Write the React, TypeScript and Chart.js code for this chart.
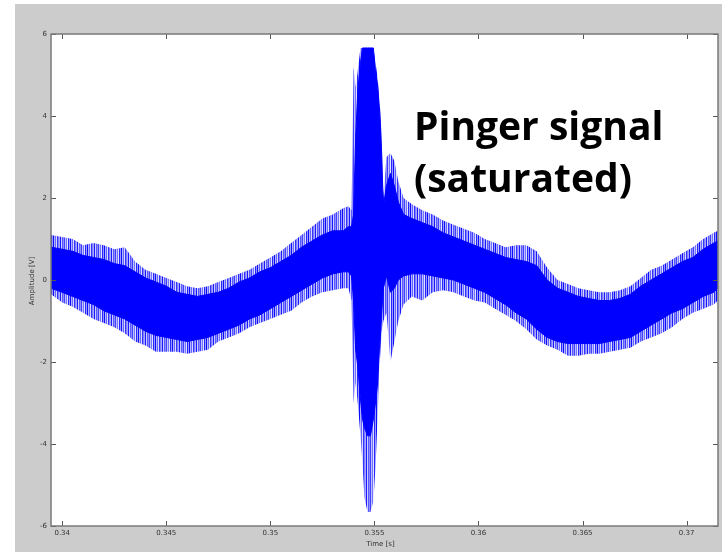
import { useEffect, useRef } from "react";
import { Chart, registerables } from "chart.js";

Chart.register(...registerables);

// Sample times [s] along the trace
const times = [
  0.33946, 0.34, 0.3405, 0.341, 0.3415, 0.342, 0.3425, 0.343, 0.3435, 0.344,
  0.3445, 0.345, 0.3455, 0.346, 0.3465, 0.347, 0.3475, 0.348, 0.3485, 0.349,
  0.3495, 0.35, 0.3505, 0.351, 0.3515, 0.352, 0.3525, 0.353, 0.3535,
  0.35375, 0.3539, 0.354, 0.3541, 0.3542, 0.35433, 0.35443, 0.35452, 0.35467, 0.35481,
  0.35495, 0.35505, 0.35514, 0.35524, 0.35534, 0.35543, 0.35558, 0.35577, 0.35596, 0.35615,
  0.3564, 0.3568, 0.3573, 0.3578, 0.3583, 0.3588, 0.3593, 0.3598, 0.3603, 0.3608,
  0.3613, 0.3618, 0.3623, 0.3628, 0.3633, 0.3638, 0.3643, 0.3648, 0.3653, 0.3658,
  0.3663, 0.3668, 0.3673, 0.3678, 0.3683, 0.3688, 0.3693, 0.3698, 0.3703, 0.3708,
  0.3713, 0.37151,
];

// Noise spike tips (upper envelope) [V]
const outerHigh = [
  1.1, 1.05, 1.0, 0.85, 0.9, 0.85, 0.75, 0.8, 0.45, 0.25,
  0.15, 0.05, -0.05, -0.15, -0.2, -0.15, -0.05, 0.05, 0.15, 0.25,
  0.4, 0.55, 0.7, 0.9, 1.1, 1.3, 1.5, 1.6, 1.75,
  1.8, 1.7, 5.2, 4.7, 5.1, 5.66, 5.66, 5.66, 5.66, 5.66,
  5.66, 5.3, 5.0, 4.5, 3.6, 2.0, 3.0, 3.1, 2.9, 2.4,
  2.0, 1.85, 1.7, 1.6, 1.45, 1.35, 1.25, 1.15, 1.0, 0.9,
  0.8, 0.85, 0.85, 0.7, 0.3, 0.0, -0.1, -0.2, -0.25, -0.3,
  -0.3, -0.25, -0.15, 0.05, 0.25, 0.35, 0.5, 0.65, 0.8, 1.0,
  1.15, 1.2,
];

// Dense core, upper edge [V]
const coreHigh = [
  0.8, 0.75, 0.7, 0.6, 0.55, 0.5, 0.4, 0.35, 0.2, 0.05,
  -0.05, -0.15, -0.3, -0.35, -0.4, -0.35, -0.3, -0.2, -0.05, 0.05,
  0.2, 0.3, 0.45, 0.6, 0.8, 0.95, 1.1, 1.2, 1.2,
  1.3, 1.3, 1.6, 3.5, 4.6, 5.3, 5.66, 5.66, 5.66, 5.66,
  5.66, 5.1, 4.8, 4.2, 3.2, 1.8, 2.3, 2.6, 2.3, 1.9,
  1.6, 1.5, 1.4, 1.3, 1.15, 1.05, 0.95, 0.85, 0.75, 0.65,
  0.55, 0.5, 0.45, 0.35, 0.0, -0.2, -0.3, -0.4, -0.45, -0.5,
  -0.5, -0.45, -0.35, -0.15, 0.0, 0.15, 0.3, 0.45, 0.55, 0.75,
  0.9, 0.95,
];

// Dense core, lower edge [V]
const coreLow = [
  -0.2, -0.3, -0.4, -0.5, -0.6, -0.75, -0.85, -0.95, -1.1, -1.25,
  -1.35, -1.4, -1.45, -1.5, -1.45, -1.4, -1.3, -1.2, -1.1, -0.95,
  -0.85, -0.7, -0.55, -0.4, -0.25, -0.1, 0.05, 0.15, 0.2,
  0.2, 0.1, -0.5, -1.7, -2.1, -2.9, -3.4, -3.6, -3.8, -3.8,
  -3.4, -3.0, -2.6, -1.7, -0.9, -0.2, 0.1, -0.3, -0.2, 0.0,
  0.1, 0.15, 0.15, 0.1, 0.05, 0.0, -0.1, -0.2, -0.3, -0.45,
  -0.6, -0.8, -0.95, -1.2, -1.4, -1.5, -1.55, -1.55, -1.55, -1.55,
  -1.5, -1.45, -1.4, -1.25, -1.1, -0.95, -0.8, -0.7, -0.55, -0.4,
  -0.3, -0.2,
];

// Noise spike tips (lower envelope) [V]
const outerLow = [
  -0.35, -0.55, -0.65, -0.8, -0.95, -1.05, -1.15, -1.3, -1.5, -1.6,
  -1.75, -1.75, -1.75, -1.8, -1.75, -1.7, -1.5, -1.4, -1.3, -1.15,
  -1.05, -0.95, -0.85, -0.75, -0.55, -0.4, -0.3, -0.25, -0.2,
  -0.2, -0.5, -3.0, -2.5, -3.0, -3.8, -4.5, -5.3, -5.66, -5.66,
  -5.4, -4.6, -3.5, -2.2, -1.3, -1.0, -0.8, -2.0, -1.5, -1.0,
  -0.6, -0.4, -0.5, -0.3, -0.25, -0.3, -0.4, -0.5, -0.55, -0.7,
  -0.85, -1.0, -1.2, -1.45, -1.6, -1.7, -1.85, -1.85, -1.8, -1.8,
  -1.75, -1.7, -1.65, -1.5, -1.4, -1.3, -1.15, -0.95, -0.8, -0.7,
  -0.6, -0.5,
];

const xTickValues = [0.34, 0.345, 0.35, 0.355, 0.36, 0.365, 0.37];
const xTickLabels = ["0.34", "0.345", "0.35", "0.355", "0.36", "0.365", "0.37"];
const yTickValues = [-6, -4, -2, 0, 2, 4, 6];
const xRange = [0.33946, 0.37151];
const yRange = [-6, 6];
const xTitle = "Time [s]";
const yTitle = "Amplitude [V]";
const annotationLines = ["Pinger signal", "(saturated)"];

export default function App() {
  const canvasRef = useRef<HTMLCanvasElement | null>(null);

  useEffect(() => {
    const canvas = canvasRef.current;
    if (!canvas) return;
    const ctx = canvas.getContext("2d")!;

    // irregular vertical-streak texture for the noisy fringe
    const streakAlphas = [0.85, 0.4, 0.95, 0.3, 0.6, 0.15, 0.8, 0.5, 0.35, 0.9, 0.2, 0.65, 0.45, 0.75, 0.25, 0.55, 0.12];
    const pc = document.createElement("canvas");
    pc.width = streakAlphas.length;
    pc.height = 1;
    const pctx = pc.getContext("2d")!;
    streakAlphas.forEach((a, i) => {
      pctx.fillStyle = `rgba(0,0,255,${a})`;
      pctx.fillRect(i, 0, 1, 1);
    });
    const pattern = ctx.createPattern(pc, "repeat")!;

    const toPts = (arr: number[]) => arr.map((y, i) => ({ x: times[i], y }));

    const decor = {
      id: "decor",
      beforeDraw(chart: any) {
        const c = chart.ctx;
        const { left, top, right, bottom } = chart.chartArea;
        c.save();
        c.fillStyle = "#cccccc";
        c.fillRect(15, 4, 707, 548);
        c.fillStyle = "#ffffff";
        c.fillRect(left, top, right - left, bottom - top);
        c.restore();
      },
      afterDraw(chart: any) {
        const c = chart.ctx;
        const { left, top, right, bottom } = chart.chartArea;
        const xs = chart.scales.x;
        const ys = chart.scales.y;
        c.save();
        c.strokeStyle = "#555555";
        c.lineWidth = 1;
        c.beginPath();
        xTickValues.forEach((v) => {
          const px = Math.round(xs.getPixelForValue(v)) + 0.5;
          c.moveTo(px, bottom);
          c.lineTo(px, bottom - 5);
          c.moveTo(px, top);
          c.lineTo(px, top + 5);
        });
        yTickValues.forEach((v) => {
          const py = Math.round(ys.getPixelForValue(v)) + 0.5;
          c.moveTo(left, py);
          c.lineTo(left + 5, py);
          c.moveTo(right, py);
          c.lineTo(right - 5, py);
        });
        c.stroke();
        c.strokeStyle = "#7a7a7a";
        c.lineWidth = 1.5;
        c.strokeRect(left, top, right - left, bottom - top);

        c.fillStyle = "#333333";
        c.font = '7px "DejaVu Sans"';
        c.textAlign = "center";
        c.textBaseline = "middle";
        c.fillText(xTitle, (left + right) / 2 - 4, 544);
        c.save();
        c.translate(32, (top + bottom) / 2 + 1);
        c.rotate(-Math.PI / 2);
        c.fillText(yTitle, 0, 0);
        c.restore();

        c.fillStyle = "#000000";
        c.font = 'bold 39px "Open Sans"';
        c.textAlign = "left";
        c.textBaseline = "alphabetic";
        c.fillText(annotationLines[0], 414, 140);
        c.fillText(annotationLines[1], 414, 192);
        c.restore();
      },
    };

    const chart = new Chart(ctx, {
      type: "line",
      data: {
        datasets: [
          {
            data: toPts(outerHigh),
            fill: 3,
            backgroundColor: pattern as any,
            borderWidth: 0,
            pointRadius: 0,
            order: 2,
          },
          {
            data: toPts(coreHigh),
            fill: 2,
            backgroundColor: "#0000ff",
            borderColor: "#0000ff",
            borderWidth: 1,
            pointRadius: 0,
            order: 1,
          },
          {
            data: toPts(coreLow),
            fill: false,
            borderColor: "#0000ff",
            borderWidth: 1,
            pointRadius: 0,
            order: 1,
          },
          {
            data: toPts(outerLow),
            fill: false,
            borderWidth: 0,
            pointRadius: 0,
            order: 2,
          },
        ],
      },
      options: {
        responsive: false,
        animation: false,
        devicePixelRatio: 1,
        layout: { padding: { top: 34, right: 7, left: 0, bottom: 0 } },
        plugins: {
          legend: { display: false },
          tooltip: { enabled: false },
          filler: { propagate: false },
        },
        elements: { line: { tension: 0 } },
        scales: {
          x: {
            type: "linear",
            min: xRange[0],
            max: xRange[1],
            grid: { display: false, drawTicks: false },
            border: { display: false },
            afterBuildTicks: (scale: any) => {
              scale.ticks = xTickValues.map((v) => ({ value: v }));
            },
            afterFit: (scale: any) => {
              scale.height = 26;
            },
            ticks: {
              autoSkip: false,
              maxRotation: 0,
              minRotation: 0,
              padding: 3,
              color: "#333333",
              font: { family: "DejaVu Sans", size: 7 },
              callback: (v: any) => {
                const i = xTickValues.findIndex((t) => Math.abs(t - Number(v)) < 1e-9);
                return i >= 0 ? xTickLabels[i] : "";
              },
            },
          },
          y: {
            type: "linear",
            min: yRange[0],
            max: yRange[1],
            grid: { display: false, drawTicks: false },
            border: { display: false },
            afterBuildTicks: (scale: any) => {
              scale.ticks = yTickValues.map((v) => ({ value: v }));
            },
            afterFit: (scale: any) => {
              scale.width = 51;
            },
            ticks: {
              padding: 4,
              color: "#333333",
              font: { family: "DejaVu Sans", size: 7 },
              callback: (v: any) => String(v),
            },
          },
        },
      },
      plugins: [decor],
    });

    return () => chart.destroy();
  }, []);

  return (
    <div style={{ position: "absolute", left: 0, top: 0, width: 725, height: 552 }}>
      <canvas ref={canvasRef} width={725} height={552} style={{ display: "block" }} />
    </div>
  );
}
